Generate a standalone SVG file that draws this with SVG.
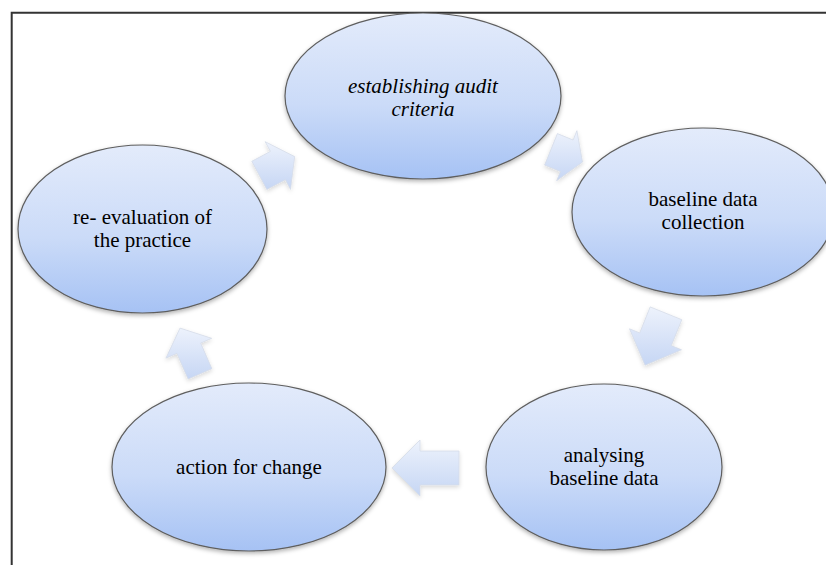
<svg xmlns="http://www.w3.org/2000/svg" width="826" height="565" viewBox="0 0 826 565">
<defs>
<linearGradient id="eg" x1="0" y1="0" x2="0" y2="1">
<stop offset="0" stop-color="#e3ebfb"/>
<stop offset="0.55" stop-color="#cbdbf8"/>
<stop offset="1" stop-color="#a6c2f4"/>
</linearGradient>
<linearGradient id="ag" x1="0" y1="0" x2="0" y2="1">
<stop offset="0" stop-color="#edf2fc"/>
<stop offset="1" stop-color="#c6d6f4"/>
</linearGradient>
<filter id="sh" x="-20%" y="-20%" width="140%" height="140%">
<feDropShadow dx="0" dy="2" stdDeviation="2" flood-color="#000" flood-opacity="0.3"/>
</filter>
<filter id="ash" x="-30%" y="-30%" width="160%" height="160%">
<feDropShadow dx="0" dy="2" stdDeviation="2" flood-color="#000" flood-opacity="0.15"/>
</filter>
</defs>
<style>
.node ellipse{fill:url(#eg);stroke:#5e5e5e;stroke-width:1.2;filter:url(#sh)}
.node text{font-family:"Liberation Serif","DejaVu Serif","Times New Roman",serif;font-size:21px;fill:#000;text-anchor:middle}
.arrow{fill:url(#ag);stroke:#d6dce9;stroke-width:0.8;filter:url(#ash)}
.frame{fill:none;stroke:#333;stroke-width:2}
</style>
<rect width="826" height="565" fill="#fff"/>
<path class="frame" d="M11.7,565 V12.8 H826"/>
<g id="connectors">
<polygon class="arrow" points="251.8,161.3 270.4,151.4 265.2,141.7 294.7,156.6 290.5,189.4 285.4,179.7 266.8,189.5"/>
<polygon class="arrow" points="557.4,133.6 573.1,140 576.9,130.7 582.5,162.1 556.6,180.8 560.4,171.5 544.6,165.1"/>
<polygon class="arrow" points="681.8,319.7 671.3,345.6 681.5,349.8 645,365.2 629.5,328.8 639.7,332.9 650.2,306.9"/>
<polygon class="arrow" points="459,451 420,451 420,440 392,468 420,496 420,485 459,485"/>
<polygon class="arrow" points="188.1,379.1 176.9,353.4 165.9,358.2 180,328.1 211.7,338.3 200.7,343.1 211.9,368.7"/>
</g>
<g id="node-establishing" class="node">
<ellipse cx="423" cy="96" rx="138" ry="83"/>
<text x="423" y="93" font-style="italic">establishing audit</text>
<text x="423" y="116" font-style="italic">criteria</text>
</g>
<g id="node-baseline-collection" class="node">
<ellipse cx="703" cy="212" rx="131" ry="84"/>
<text x="703" y="206">baseline data</text>
<text x="703" y="229">collection</text>
</g>
<g id="node-analysing" class="node">
<ellipse cx="604" cy="467" rx="118" ry="83"/>
<text x="604" y="462">analysing</text>
<text x="604" y="485">baseline data</text>
</g>
<g id="node-action" class="node">
<ellipse cx="249" cy="467" rx="137" ry="84"/>
<text x="249" y="474">action for change</text>
</g>
<g id="node-reevaluation" class="node">
<ellipse cx="142.5" cy="229" rx="124.5" ry="84"/>
<text x="142.5" y="224">re- evaluation of</text>
<text x="142.5" y="247">the practice</text>
</g>
</svg>
